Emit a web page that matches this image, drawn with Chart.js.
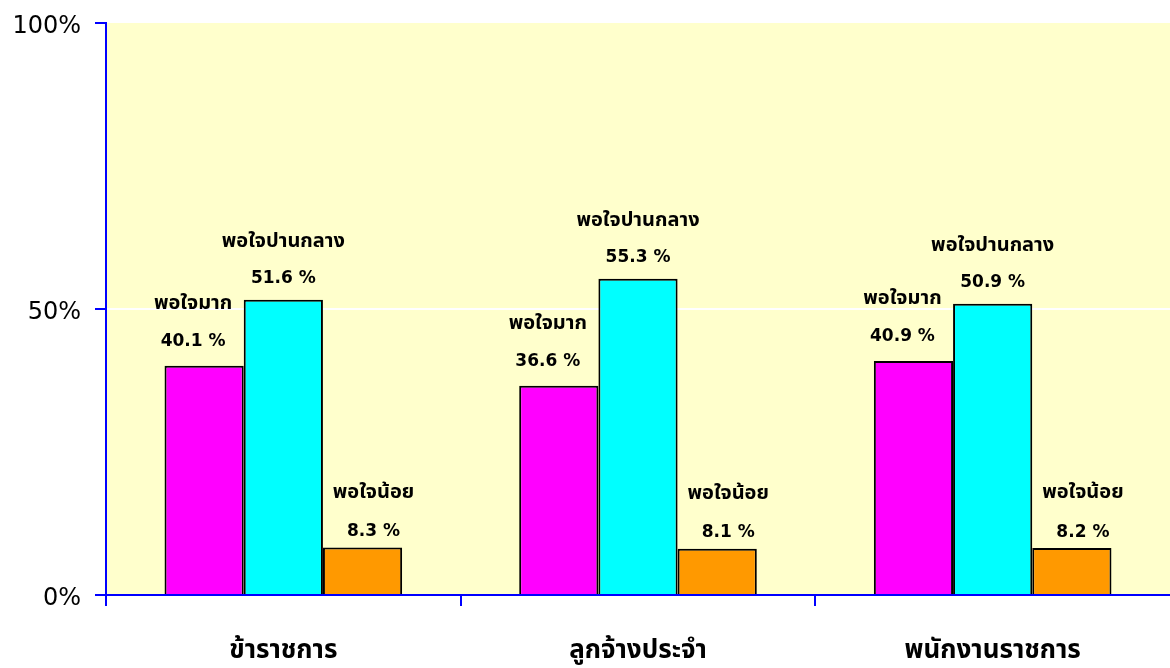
<!DOCTYPE html>
<html><head><meta charset="utf-8">
<script src="https://cdn.jsdelivr.net/npm/chart.js@4"></script>
<style>html,body{margin:0;padding:0;background:#fff}#wrap{width:1170px;height:668px}</style>
</head><body><div id="wrap"><canvas id="c" width="1170" height="668"></canvas></div>
<script>
const categories = ["ข้าราชการ", "ลูกจ้างประจำ", "พนักงานราชการ"];
const seriesNames = ["พอใจมาก", "พอใจปานกลาง", "พอใจน้อย"];
const seriesHigh = [40.1, 36.6, 40.9];
const seriesMid = [51.6, 55.3, 50.9];
const seriesLow = [8.3, 8.1, 8.2];
const yTicks = [0, 50, 100];

const FONT = "'DejaVu Sans', 'Noto Sans Thai', 'Noto Sans', sans-serif";
const labelOffsetX = [-11, 0, 11];
const valueOffsetY = [-24, -21, -16];
const nameOffsetY = [-62, -58, -55];

const bgPlugin = {
  id: 'bg',
  beforeDraw(chart) {
    const {ctx, chartArea: a} = chart;
    ctx.save();
    ctx.fillStyle = '#FFFFCC';
    ctx.fillRect(a.left, a.top, a.right - a.left, a.bottom - a.top);
    ctx.restore();
  }
};
const labelPlugin = {
  id: 'lbl',
  afterDatasetsDraw(chart) {
    const ctx = chart.ctx;
    ctx.save();
    ctx.fillStyle = '#000';
    ctx.textAlign = 'center';
    ctx.textBaseline = 'middle';
    chart.data.datasets.forEach((ds, di) => {
      chart.getDatasetMeta(di).data.forEach((bar, i) => {
        const x = bar.x + labelOffsetX[di];
        ctx.font = "bold 17px " + FONT;
        ctx.fillText(ds.data[i].toFixed(1) + ' %', x, bar.y + valueOffsetY[di]);
        ctx.font = "bold 20px " + FONT;
        ctx.fillText(ds.label, x, bar.y + nameOffsetY[di]);
      });
    });
    ctx.restore();
  }
};

new Chart(document.getElementById('c'), {
  type: 'bar',
  data: {
    labels: categories,
    datasets: [
      {label: seriesNames[0], data: seriesHigh, backgroundColor: '#FF00FF', borderColor: '#000', borderWidth: 2},
      {label: seriesNames[1], data: seriesMid, backgroundColor: '#00FFFF', borderColor: '#000', borderWidth: 2},
      {label: seriesNames[2], data: seriesLow, backgroundColor: '#FF9900', borderColor: '#000', borderWidth: 2}
    ]
  },
  options: {
    responsive: false,
    animation: false,
    layout: {padding: {top: 23, right: 0, left: 0, bottom: 0}},
    plugins: {legend: {display: false}, tooltip: {enabled: false}},
    datasets: {bar: {categoryPercentage: 0.67, barPercentage: 1.0, borderSkipped: 'bottom'}},
    scales: {
      x: {
        grid: {
          offset: true, drawOnChartArea: false, color: '#0000FF',
          tickColor: c => c.type === 'tick' ? '#0000FF' : 'rgba(0,0,0,0)',
          tickLength: 11, lineWidth: 2
        },
        border: {color: '#0000FF', width: 2},
        ticks: {color: '#000', font: {family: FONT, size: 26, weight: 'bold'}, padding: 30},
        afterFit(s) { s.height = 73; s.paddingLeft = 0; s.paddingRight = 0; }
      },
      y: {
        min: 0, max: 100,
        afterBuildTicks(s) { s.ticks = yTicks.map(v => ({value: v})); },
        grid: {
          color: c => (c.tick && c.tick.value === 50) ? '#FFFFFF' : 'rgba(0,0,0,0)',
          tickColor: '#0000FF', tickLength: 11, lineWidth: 2
        },
        border: {color: '#0000FF', width: 2},
        ticks: {color: '#000', font: {family: FONT, size: 24}, padding: 14, labelOffset: 4, callback: v => v + '%'},
        afterFit(s) { s.width = 106; s.paddingTop = 0; s.paddingBottom = 0; }
      }
    }
  },
  plugins: [bgPlugin, labelPlugin]
});
</script></body></html>
